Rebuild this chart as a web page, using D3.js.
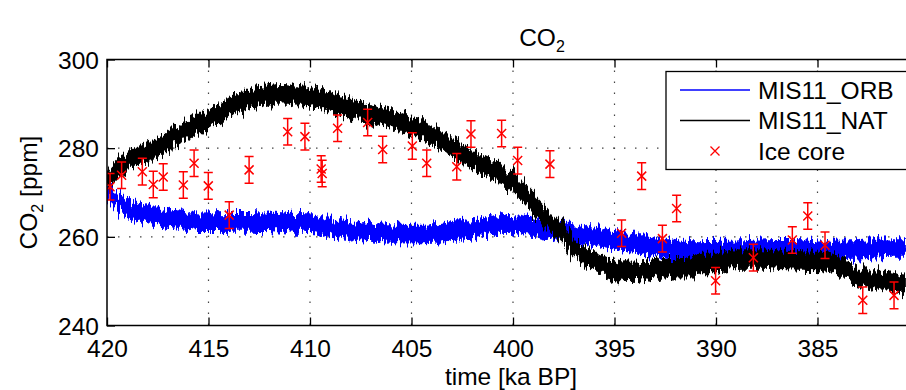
<!DOCTYPE html>
<html>
<head>
<meta charset="utf-8">
<script src="https://cdn.jsdelivr.net/npm/d3@7"></script>
<style>
  body { margin: 0; background: #fff; }
  svg { display: block; font-family: "Liberation Sans", Arial, sans-serif; }
</style>
</head>
<body>
<div id="chart"></div>
<script>
// MIS11_NAT model run (ka BP, ppm) - centre of the noisy trace
var natAge = [420.0, 419.5, 418.7, 417.9, 417.1, 416.3, 415.4, 414.6, 413.8, 413.0, 412.1, 411.3, 410.5,
  409.3, 408.5, 407.7, 406.9, 406.1, 405.2, 404.4, 403.6, 402.8, 402.0, 401.1, 400.0, 399.2, 398.3,
  397.5, 396.7, 395.9, 395.1, 394.2, 393.4, 392.6, 391.6, 390.8, 390.1, 389.5, 388.7, 387.8, 387.0,
  386.2, 385.3, 384.5, 383.9, 383.5, 382.9, 382.1, 381.3, 380.5];
var natCO2 = [272.0, 275.0, 277.8, 279.3, 281.3, 283.5, 285.7, 287.2, 289.8, 291.1, 292.0, 292.3, 291.8,
  290.9, 289.7, 288.6, 287.5, 286.7, 285.4, 284.0, 282.0, 279.6, 277.4, 275.3, 272.2, 268.4, 264.3,
  260.2, 256.5, 254.2, 252.7, 252.2, 252.5, 253.0, 253.0, 254.0, 254.0, 254.7, 255.0, 255.0, 254.8,
  254.6, 254.5, 254.3, 253.3, 252.3, 251.2, 250.3, 249.6, 249.2];

// MIS11_ORB model run
var orbAge = [420.0, 419.5, 418.7, 417.9, 417.1, 416.2, 415.4, 413.8, 412.1, 411.0, 409.7, 408.5, 406.9,
  405.2, 403.6, 402.0, 400.8, 400.3, 399.2, 397.5, 395.9, 394.2, 392.6, 391.1, 389.5, 387.8, 386.2,
  384.5, 382.9, 381.3, 380.5];
var orbCO2 = [270.5, 268.2, 266.0, 264.9, 264.2, 263.8, 263.4, 263.5, 263.4, 263.1, 262.9, 261.9, 261.1,
  260.6, 260.8, 261.8, 262.6, 262.8, 262.4, 261.2, 260.0, 258.6, 257.5, 256.9, 257.0, 257.3, 257.4,
  257.0, 257.2, 257.6, 257.6];

// half spread of the model noise (ppm)
var natNoise = 2.2;
var orbNoise = 2.1;

// ice core measurements
var iceAge = [419.85, 419.28, 418.26, 417.72, 417.23, 416.24, 415.71, 415.01, 413.98, 413.0, 411.1,
  410.25, 409.45, 409.4, 408.64, 407.16, 406.42, 404.96, 404.25, 402.77, 402.07, 400.56, 399.77,
  398.18, 394.65, 393.66, 392.64, 391.94, 390.02, 388.16, 386.24, 385.48, 384.63, 382.77, 381.23];
var iceCO2 = [271.3, 273.9, 274.7, 271.8, 273.5, 271.7, 276.6, 271.5, 264.9, 275.1, 283.7,
  282.6, 275.3, 274.3, 284.5, 285.8, 279.7, 280.5, 276.6, 275.8, 283.2, 283.3, 277.2,
  276.4, 260.8, 273.7, 259.6, 266.4, 250.1, 255.3, 259.3, 264.7, 258.1, 245.7, 246.8];
var iceErr = [3, 3, 3, 3, 3, 3, 3, 3, 3, 3, 3,
  3, 3, 3, 3, 3, 3, 3, 3, 3, 3, 3, 3,
  3, 3, 3, 3, 3, 3, 3, 3, 3, 3, 3, 3];

var xTicks = [420, 415, 410, 405, 400, 395, 390, 385];
var yTicks = [240, 260, 280, 300];
var legendNames = ["MIS11_ORB", "MIS11_NAT", "Ice core"];

var W = 906, H = 390;
var pLeft = 107, pTop = 59.5, pBottom = 325.5, pRight = 919;

var svg = d3.select('#chart').append('svg')
  .attr('width', W)
  .attr('height', H);

var defs = svg.append('defs');
var filt = defs.append('filter').attr('id', 'jag')
  .attr('x', '-2%').attr('y', '-20%').attr('width', '104%').attr('height', '140%');
filt.append('feTurbulence').attr('type', 'fractalNoise')
  .attr('baseFrequency', '0.45 0.02').attr('numOctaves', 3).attr('seed', 7).attr('result', 'n');
filt.append('feDisplacementMap').attr('in', 'SourceGraphic').attr('in2', 'n')
  .attr('scale', 18).attr('xChannelSelector', 'G').attr('yChannelSelector', 'R');

defs.append('clipPath').attr('id', 'plotclip')
  .append('rect').attr('x', pLeft).attr('y', pTop).attr('width', pRight - pLeft).attr('height', pBottom - pTop);

var x = d3.scaleLinear().domain([420, 380]).range([pLeft, pRight]);
var y = d3.scaleLinear().domain([240, 300]).range([pBottom, pTop]);

// grid
var grid = svg.append('g').attr('stroke', '#444').attr('stroke-width', 1.2)
  .attr('stroke-dasharray', '1.5,9.5');
grid.selectAll('.gx').data(xTicks.slice(1)).enter().append('line')
  .attr('x1', d => x(d)).attr('x2', d => x(d)).attr('y1', pTop).attr('y2', pBottom);
grid.selectAll('.gy').data(yTicks.slice(1, 3)).enter().append('line')
  .attr('y1', d => y(d)).attr('y2', d => y(d)).attr('x1', pLeft).attr('x2', pRight);

// model runs
var plot = svg.append('g').attr('clip-path', 'url(#plotclip)');

function band(ages, vals, noise) {
  return d3.area()
    .x((d, i) => x(ages[i]))
    .y0((d, i) => y(vals[i] - noise))
    .y1((d, i) => y(vals[i] + noise))
    .curve(d3.curveMonotoneX)(vals);
}

var pg = plot.append('g').attr('filter', 'url(#jag)');
pg.append('path').attr('d', band(orbAge, orbCO2, orbNoise)).attr('fill', '#0000ff');
pg.append('path').attr('d', band(natAge, natCO2, natNoise)).attr('fill', '#000');

// ice core with error bars
var ice = plot.append('g').attr('stroke', '#ff0000').attr('stroke-width', 1.5).attr('fill', 'none');
var pts = ice.selectAll('g').data(iceAge).enter().append('g');
pts.append('line')
  .attr('x1', d => x(d)).attr('x2', d => x(d))
  .attr('y1', (d, i) => y(iceCO2[i] - iceErr[i])).attr('y2', (d, i) => y(iceCO2[i] + iceErr[i]));
pts.append('line')
  .attr('x1', d => x(d) - 4.5).attr('x2', d => x(d) + 4.5)
  .attr('y1', (d, i) => y(iceCO2[i] - iceErr[i])).attr('y2', (d, i) => y(iceCO2[i] - iceErr[i]));
pts.append('line')
  .attr('x1', d => x(d) - 4.5).attr('x2', d => x(d) + 4.5)
  .attr('y1', (d, i) => y(iceCO2[i] + iceErr[i])).attr('y2', (d, i) => y(iceCO2[i] + iceErr[i]));
pts.append('path')
  .attr('d', (d, i) => {
    var cx = x(d), cy = y(iceCO2[i]), s = 4.5;
    return 'M' + (cx - s) + ',' + (cy - s) + 'L' + (cx + s) + ',' + (cy + s) +
      'M' + (cx - s) + ',' + (cy + s) + 'L' + (cx + s) + ',' + (cy - s);
  });

// axes
var fontSize = 24.5;
var xAxis = d3.axisBottom(x).tickValues(xTicks).tickSizeInner(-8).tickSizeOuter(0).tickPadding(14);
var gx = svg.append('g').attr('transform', 'translate(0,' + pBottom + ')').call(xAxis);
var gxt = svg.append('g').attr('transform', 'translate(0,' + pTop + ')')
  .call(d3.axisTop(x).tickValues(xTicks).tickSizeInner(-8).tickSizeOuter(0).tickFormat(''));
var gy = svg.append('g').attr('transform', 'translate(' + pLeft + ',0)')
  .call(d3.axisLeft(y).tickValues(yTicks).tickSizeInner(-8).tickSizeOuter(0).tickPadding(8));
[gx, gxt, gy].forEach(function (g) {
  g.select('.domain').remove();
  g.selectAll('line').attr('stroke', '#000').attr('stroke-width', 1.3);
  g.selectAll('text').attr('font-size', fontSize).attr('fill', '#000')
    .attr('font-family', '"Liberation Sans", Arial, sans-serif');
});
gy.selectAll('text').attr('dy', '0.36em');

// frame
svg.append('rect').attr('x', pLeft).attr('y', pTop)
  .attr('width', pRight - pLeft).attr('height', pBottom - pTop)
  .attr('fill', 'none').attr('stroke', '#000').attr('stroke-width', 1.5);

// labels
var title = svg.append('text').attr('x', 542).attr('y', 46).attr('text-anchor', 'middle')
  .attr('font-size', fontSize);
title.append('tspan').text('CO');
title.append('tspan').attr('font-size', 16).attr('dy', 6).text('2');

svg.append('text').attr('x', 511).attr('y', 385).attr('text-anchor', 'middle')
  .attr('font-size', fontSize).text('time [ka BP]');

var yl = svg.append('text').attr('transform', 'translate(37,' + ((pTop + pBottom) / 2) + ') rotate(-90)')
  .attr('text-anchor', 'middle').attr('font-size', fontSize);
yl.append('tspan').text('CO');
yl.append('tspan').attr('font-size', 16).attr('dy', 6).text('2');
yl.append('tspan').attr('dy', -6).text(' [ppm]');

// legend
var lg = svg.append('g');
lg.append('rect').attr('x', 666).attr('y', 71.5).attr('width', 260).attr('height', 98)
  .attr('fill', '#fff').attr('stroke', '#000').attr('stroke-width', 1.3);
var rowY = [90, 120.5, 151];
var rowColor = ['#0000ff', '#000', '#ff0000'];
legendNames.forEach(function (name, i) {
  if (i < 2) {
    lg.append('line').attr('x1', 680).attr('x2', 750).attr('y1', rowY[i]).attr('y2', rowY[i])
      .attr('stroke', rowColor[i]).attr('stroke-width', 1.3);
  } else {
    var s = 4.5;
    lg.append('path').attr('d', 'M' + (715 - s) + ',' + (rowY[i] - s) + 'L' + (715 + s) + ',' + (rowY[i] + s) +
      'M' + (715 - s) + ',' + (rowY[i] + s) + 'L' + (715 + s) + ',' + (rowY[i] - s))
      .attr('stroke', rowColor[i]).attr('stroke-width', 1.3);
  }
  lg.append('text').attr('x', 758).attr('y', rowY[i] + 8.5).attr('font-size', fontSize).text(name);
});
</script>
</body>
</html>
